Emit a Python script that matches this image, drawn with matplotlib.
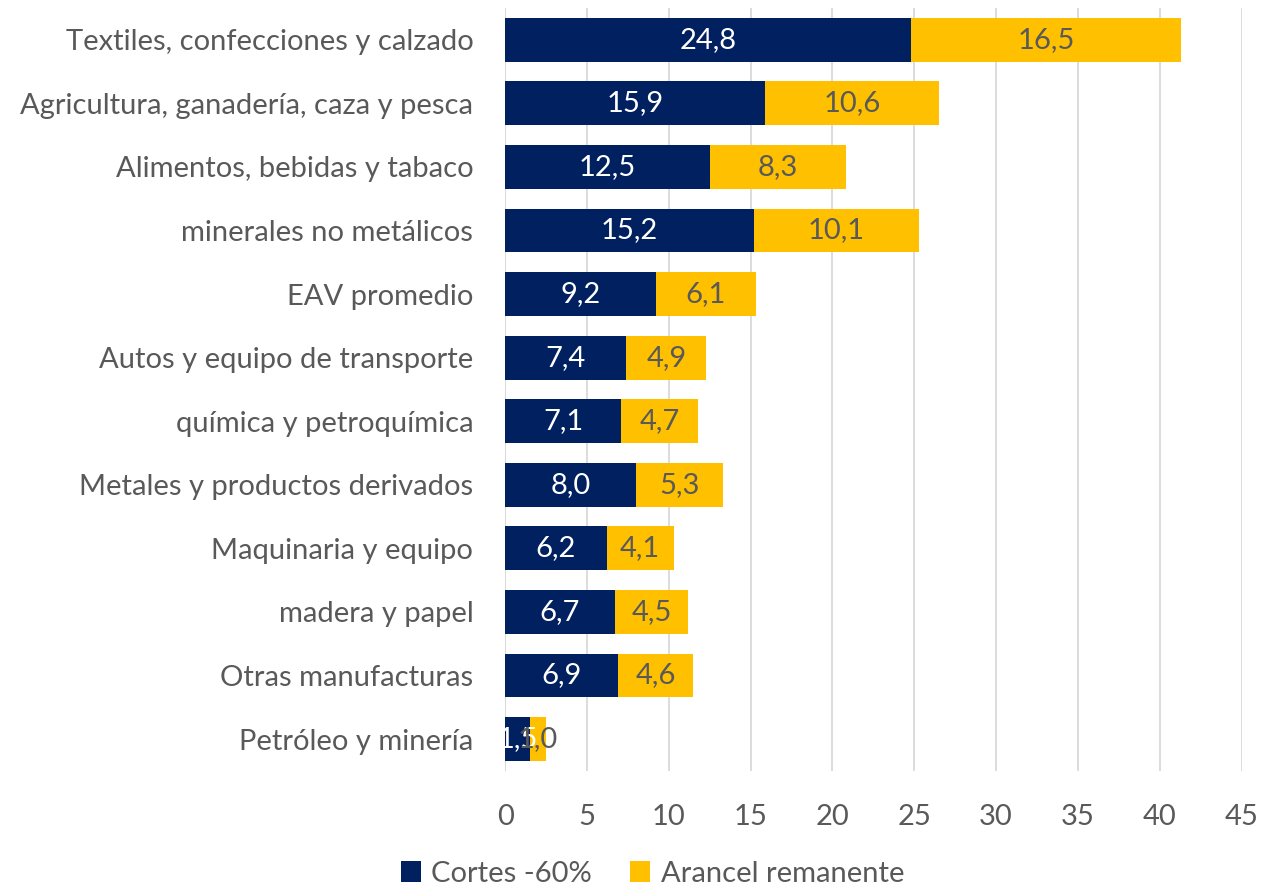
import matplotlib
matplotlib.use('Agg')
import matplotlib.pyplot as plt

plt.rcParams['font.family'] = ['Lato', 'DejaVu Sans']

categorias = ['Textiles, confecciones y calzado', 'Agricultura, ganadería, caza y pesca',
              'Alimentos, bebidas y tabaco', 'minerales no metálicos', 'EAV promedio',
              'Autos y equipo de transporte', 'química y petroquímica',
              'Metales y productos derivados', 'Maquinaria y equipo', 'madera y papel',
              'Otras manufacturas', 'Petróleo y minería']
cortes = [24.8, 15.9, 12.5, 15.2, 9.2, 7.4, 7.1, 8.0, 6.2, 6.7, 6.9, 1.5]
remanente = [16.5, 10.6, 8.3, 10.1, 6.1, 4.9, 4.7, 5.3, 4.1, 4.5, 4.6, 1.0]

navy = '#002060'
gold = '#FFC000'
gris = '#595959'
fs = 21

fig = plt.figure(figsize=(12.63, 8.88), dpi=100)
ax = fig.add_axes([0.4, 0.132, 0.583, 0.859])

y = list(range(len(categorias)))
ax.barh(y, cortes, height=0.69, color=navy, label='Cortes -60%', zorder=3)
ax.barh(y, remanente, left=cortes, height=0.69, color=gold, label='Arancel remanente', zorder=3)

def fmt(v):
    return ('%.1f' % v).replace('.', ',')

for i in y:
    ax.text(cortes[i] / 2, i, fmt(cortes[i]), ha='center', va='center',
            color='white', fontsize=fs, zorder=4)
    ax.text(cortes[i] + remanente[i] / 2, i, fmt(remanente[i]), ha='center', va='center',
            color=gris, fontsize=fs, zorder=4)

ax.set_yticks(y)
ax.set_yticklabels(categorias, fontsize=fs, color=gris)
ax.set_ylim(len(categorias) - 0.5, -0.5)
ax.set_xlim(0, 45)
ax.set_xticks(range(0, 46, 5))
ax.tick_params(axis='x', labelsize=fs, labelcolor=gris, length=0, pad=24)
ax.tick_params(axis='y', length=0, pad=23)
ax.grid(axis='x', color='#D9D9D9', linewidth=1.3, zorder=0)
for s in ax.spines.values():
    s.set_visible(False)
ax.axvline(0, color='#D9D9D9', linewidth=1.3, zorder=1)

ax.legend(loc='lower center', bbox_to_anchor=(0.2, -0.175), ncol=2, frameon=False,
          fontsize=fs, labelcolor=gris, handlelength=0.7, handleheight=0.7,
          handletextpad=0.35, columnspacing=1.3, borderaxespad=0.2)

fig.savefig('out.png', dpi=100)
